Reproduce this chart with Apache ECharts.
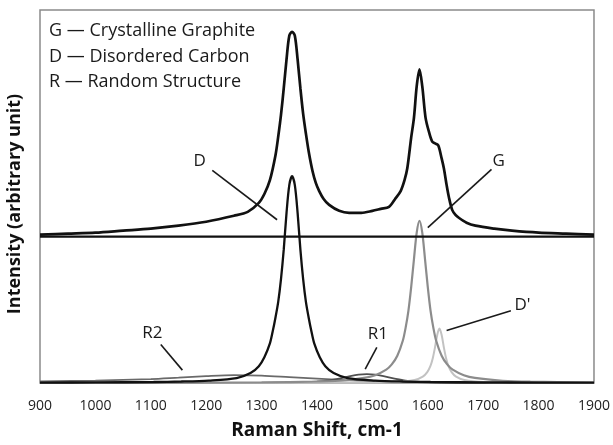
<!DOCTYPE html>
<html>
<head>
<meta charset="utf-8">
<script src="https://cdn.jsdelivr.net/npm/echarts@6/dist/echarts.min.js"></script>
<style>html,body{margin:0;padding:0;background:#fff;}#c{width:613px;height:445px;}</style>
</head>
<body>
<div id="c"></div>
<script>
// x ticks
const xTicks = [900, 1000, 1100, 1200, 1300, 1400, 1500, 1600, 1700, 1800, 1900];

// composite (offset) spectrum, [Raman shift, intensity]
const composite = [[900,150],[950,151],[1000,152],[1050,154],[1100,156],[1150,159],[1200,163],[1250,169],[1275,173],[1295,182],[1305,191],[1315,205],[1325,230],[1330,249],[1335,271],[1340,298],[1345,327],[1350,351],[1355,355],[1360,351],[1365,327],[1370,298],[1375,272],[1380,252],[1385,234],[1392,214],[1398,202],[1404,194],[1412,186],[1422,180],[1440,174],[1458,172],[1480,172],[1500,174],[1515,176],[1530,178],[1541,186],[1551,194],[1558,205],[1563,217],[1570,248],[1575,268],[1580,300],[1585,317],[1590,300],[1596,268],[1602,254],[1608,244],[1614,242],[1619,240],[1625,227],[1629,217],[1634,200],[1638,188],[1644,175],[1650,170],[1656,167],[1670,162],[1686,159],[1720,156],[1752,154],[1800,152],[1850,151],[1900,150]];

// offset baseline of the composite spectrum
const baseline = [[900,148],[1900,148]];

// fitted components
const bandD = [[900,0.4],[1000,0.6],[1105,1],[1155,1.5],[1205,2.5],[1255,5],[1280,10],[1295,17],[1305,26],[1315,40],[1320,52],[1325,66],[1330,82],[1335,105],[1340,135],[1345,172],[1350,200],[1355,209],[1360,200],[1365,172],[1370,135],[1375,105],[1380,82],[1385,66],[1390,52],[1395,40],[1405,26],[1415,17],[1430,10],[1455,5],[1505,2.5],[1555,1.5],[1605,1],[1700,0.6],[1800,0.4],[1900,0.3]];
const bandG = [[900,0.1],[1100,0.2],[1300,0.6],[1400,1.5],[1450,2.5],[1485,5.1],[1505,7.9],[1525,13.5],[1535,18.8],[1545,27.6],[1555,43],[1560,56],[1565,73],[1570,97],[1575,125],[1580,152],[1585,164],[1590,152],[1595,125],[1600,97],[1605,73],[1610,56],[1615,43],[1625,27.6],[1635,18.8],[1645,13.5],[1665,7.9],[1685,5.1],[1735,2.3],[1785,1.3],[1900,0.5]];
const bandD2 = [[900,0],[1340,0.1],[1470,0.3],[1540,1],[1576,3.1],[1591,6.5],[1599,11],[1605,17.6],[1609,25],[1613,36],[1617,48.6],[1621,55],[1625,48.6],[1629,36],[1633,25],[1637,17.6],[1643,11],[1651,6.5],[1666,3.1],[1701,1],[1771,0.3],[1900,0.1]];
const bandR1 = [[900,0],[1300,0.2],[1380,0.8],[1420,2.5],[1440,4.5],[1460,7],[1475,8.5],[1490,9],[1505,8.5],[1520,7],[1540,4.5],[1560,2.5],[1600,0.8],[1700,0.2],[1900,0]];
const bandR2 = [[900,1.5],[1000,2.5],[1100,4],[1150,5.5],[1200,7],[1250,8],[1300,7.5],[1350,6],[1400,4.5],[1450,3],[1500,2],[1550,1.2],[1600,0.8],[1700,0.4],[1800,0.2],[1900,0.1]];

// legend text lines
const legendLines = ['G \u2014 Crystalline Graphite', 'D \u2014 Disordered Carbon', 'R \u2014 Random Structure'];

// annotations: label, label point, leader line from -> to (data coords)
const annotations = [
  {text: 'D',  at: [1188, 224], from: [1211, 215], to: [1328, 165]},
  {text: 'G',  at: [1728, 224], from: [1715, 216], to: [1600, 157]},
  {text: 'R2', at: [1103, 50],  from: [1118, 39],  to: [1157, 13]},
  {text: 'R1', at: [1510, 49],  from: [1508, 36],  to: [1487, 14]},
  {text: "D'", at: [1771, 79],  from: [1750, 73],  to: [1634, 53]}
];

const chart = echarts.init(document.getElementById('c'), null, {renderer: 'canvas'});
const font = '"Open Sans", "Liberation Sans", sans-serif';

function line(data, color, width, z) {
  return {type: 'line', data: data, smooth: 0.3, showSymbol: false, symbol: 'none',
    lineStyle: {color: color, width: width}, z: z, silent: true, animation: false};
}

chart.setOption({
  animation: false,
  grid: {left: 40, right: 18, top: 10, bottom: 58, show: true, borderColor: '#8a8a8a', borderWidth: 1.5, backgroundColor: '#fff'},
  xAxis: {
    type: 'value', min: 900, max: 1900, interval: 100,
    name: 'Raman Shift, cm-1', nameLocation: 'middle', nameGap: 38,
    nameTextStyle: {fontFamily: font, fontWeight: 'bold', fontSize: 19, color: '#111'},
    axisLine: {show: false}, axisTick: {show: false}, splitLine: {show: false},
    axisLabel: {fontFamily: font, fontSize: 14, color: '#222', margin: 16,
      formatter: v => xTicks.indexOf(v) >= 0 ? String(v) : ''}
  },
  yAxis: {
    type: 'value', min: 0, max: 377,
    axisLine: {show: false}, axisTick: {show: false}, splitLine: {show: false}, axisLabel: {show: false}
  },
  series: [
    line(bandR2, '#6a6a6a', 1.8, 2),
    line(bandR1, '#505050', 1.8, 3),
    line(bandD2, '#c2c2c2', 2, 4),
    line(bandG, '#8c8c8c', 2.2, 5),
    line(bandD, '#111', 2.3, 6),
    line(baseline, '#111', 2.3, 7),
    line(composite, '#111', 2.7, 8)
  ]
});

function px(p) { return chart.convertToPixel({gridIndex: 0}, p); }

const g = [];
g.push({type: 'text', x: 15, y: 204, rotation: Math.PI / 2,
  style: {text: 'Intensity (arbitrary unit)', font: 'bold 18px ' + font, fill: '#111', align: 'center', verticalAlign: 'middle'}, z: 20});
legendLines.forEach((t, i) => {
  g.push({type: 'text', x: 49, y: 31 + i * 25.5, style: {text: t, font: '18px ' + font, fill: '#1a1a1a', verticalAlign: 'middle'}, z: 20});
});
annotations.forEach(a => {
  const p = px(a.at), f = px(a.from), t = px(a.to);
  g.push({type: 'line', shape: {x1: f[0], y1: f[1], x2: t[0], y2: t[1]}, style: {stroke: '#1a1a1a', lineWidth: 1.6}, z: 20});
  g.push({type: 'text', x: p[0], y: p[1], style: {text: a.text, font: '17px ' + font, fill: '#1a1a1a', align: 'center', verticalAlign: 'middle'}, z: 20});
});
chart.setOption({graphic: g});
</script>
</body>
</html>
